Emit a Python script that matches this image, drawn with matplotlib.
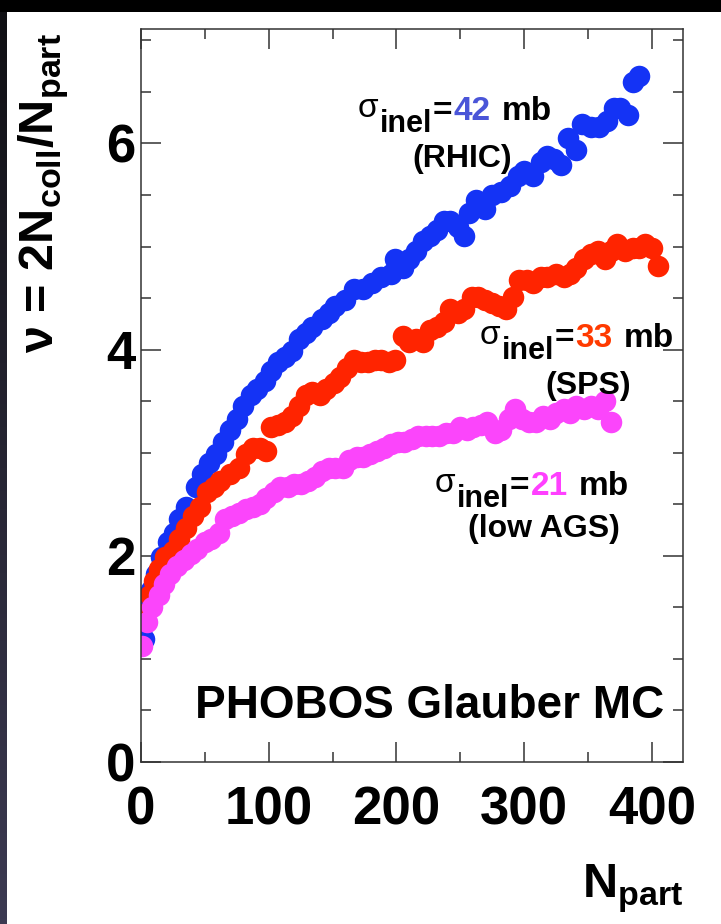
import numpy as np
import matplotlib
matplotlib.use("Agg")
import matplotlib.pyplot as plt
from matplotlib.patches import Rectangle

plt.rcParams['font.family'] = ['Liberation Sans', 'DejaVu Sans']

# N_part and nu for the three inelastic cross sections
npart_42 = [2, 5, 8, 12, 16, 21, 26, 30, 35, 43, 48, 53, 59, 64, 70, 75, 80, 86, 91, 97,
            102, 107, 113, 118, 124, 129, 134, 142, 147, 152, 160, 167, 174, 181, 188, 196,
            199, 205, 210, 215, 221, 226, 232, 237, 242, 248, 253, 257, 262, 269, 275, 282,
            289, 295, 300, 307, 313, 318, 323, 329, 334, 341, 345, 352, 359, 365, 370, 375,
            381, 385, 390]
nu_42 = [1.19, 1.50, 1.67, 1.82, 1.99, 2.13, 2.22, 2.36, 2.47, 2.67, 2.79, 2.90, 2.99, 3.10,
         3.22, 3.33, 3.45, 3.56, 3.62, 3.70, 3.79, 3.88, 3.93, 3.99, 4.10, 4.16, 4.22, 4.30,
         4.36, 4.42, 4.48, 4.59, 4.59, 4.65, 4.70, 4.73, 4.88, 4.79, 4.88, 4.96, 5.05, 5.10,
         5.16, 5.25, 5.25, 5.19, 5.10, 5.33, 5.45, 5.36, 5.50, 5.53, 5.59, 5.68, 5.73, 5.68,
         5.82, 5.88, 5.85, 5.79, 6.05, 5.94, 6.19, 6.16, 6.16, 6.22, 6.34, 6.34, 6.28, 6.60,
         6.65]

npart_33 = [2, 7, 10, 14, 19, 25, 30, 35, 41, 46, 52, 57, 62, 70, 77, 82, 88, 93, 98, 102,
            107, 113, 118, 124, 129, 134, 140, 145, 151, 156, 161, 167, 172, 178, 183, 188,
            194, 199, 205, 210, 215, 221, 226, 232, 237, 242, 248, 253, 259, 264, 269, 275,
            280, 286, 291, 296, 302, 307, 313, 318, 325, 331, 336, 341, 347, 352, 358, 363,
            368, 373, 379, 385, 390, 395, 400, 405]
nu_33 = [1.44, 1.62, 1.76, 1.87, 1.99, 2.05, 2.16, 2.27, 2.39, 2.47, 2.62, 2.67, 2.73, 2.79,
         2.85, 2.99, 3.05, 3.05, 3.02, 3.25, 3.27, 3.30, 3.36, 3.45, 3.56, 3.59, 3.56, 3.62,
         3.68, 3.73, 3.82, 3.90, 3.88, 3.88, 3.90, 3.90, 3.88, 3.90, 4.13, 4.07, 4.10, 4.07,
         4.19, 4.22, 4.27, 4.39, 4.36, 4.39, 4.51, 4.51, 4.48, 4.45, 4.42, 4.39, 4.51, 4.68,
         4.68, 4.65, 4.70, 4.70, 4.73, 4.70, 4.73, 4.79, 4.88, 4.93, 4.96, 4.88, 4.96, 5.02,
         4.96, 4.99, 4.99, 5.02, 4.99, 4.81]

npart_21 = [1, 5, 9, 14, 18, 23, 28, 34, 39, 44, 50, 55, 61, 66, 71, 77, 82, 88, 93, 98,
            104, 109, 115, 120, 125, 131, 136, 142, 147, 152, 158, 163, 169, 174, 179, 185,
            190, 196, 201, 206, 212, 217, 223, 228, 233, 239, 244, 250, 255, 260, 266, 271,
            277, 282, 288, 293, 298, 304, 309, 315, 320, 325, 331, 336, 341, 347, 352, 358,
            363, 368]
nu_21 = [1.13, 1.36, 1.50, 1.62, 1.73, 1.82, 1.90, 1.96, 2.02, 2.07, 2.13, 2.16, 2.22, 2.36,
         2.39, 2.42, 2.45, 2.47, 2.50, 2.56, 2.62, 2.67, 2.67, 2.70, 2.70, 2.73, 2.76, 2.82,
         2.85, 2.85, 2.85, 2.93, 2.96, 2.96, 2.99, 3.02, 3.05, 3.08, 3.10, 3.10, 3.13, 3.16,
         3.16, 3.16, 3.16, 3.19, 3.19, 3.25, 3.22, 3.25, 3.27, 3.30, 3.19, 3.22, 3.33, 3.42,
         3.33, 3.30, 3.30, 3.36, 3.33, 3.39, 3.42, 3.39, 3.45, 3.42, 3.45, 3.42, 3.50, 3.30]

xticks = [0, 100, 200, 300, 400]
yticks = [0, 2, 4, 6]

W, H = 721, 924
fig = plt.figure(figsize=(W / 100, H / 100), dpi=100, facecolor='black')

# white page with a dark strip on the left, black band on top
fig.patches.append(Rectangle((7 / W, 0), 1, 1 - 12 / H, transform=fig.transFigure,
                             facecolor='white', edgecolor='none', zorder=-10))
strip = fig.add_axes([0, 0, 7 / W, 1 - 12 / H], zorder=-5)
grad = np.linspace(1, 0, 200).reshape(-1, 1)
strip.imshow(grad, aspect='auto', cmap=matplotlib.colors.LinearSegmentedColormap.from_list(
    'g', ['#101014', '#3c3a52']), origin='lower')
strip.axis('off')

ax = fig.add_axes([141 / W, 1 - 762 / H, (683 - 141) / W, (762 - 29) / H])
ax.plot(npart_42, nu_42, 'o', color='#1433f5', ms=15.5, mew=0)
ax.plot(npart_33, nu_33, 'o', color='#ff2400', ms=15.5, mew=0)
ax.plot(npart_21, nu_21, 'o', color='#fb45fb', ms=15.5, mew=0)

ax.set_xlim(0, 424.4)
ax.set_ylim(0, 7.11)
ax.set_xticks(xticks)
ax.set_yticks(yticks)
ax.set_xticks(np.arange(0, 425, 50), minor=True)
ax.set_yticks(np.arange(0, 7.1, 0.5), minor=True)
ax.tick_params(which='both', direction='in', top=True, right=True, color='#333333', width=1.1)
ax.tick_params(which='major', length=14.5)
ax.tick_params(which='minor', length=7.5)
ax.tick_params(axis='x', which='major', labelsize=38, pad=17)
ax.tick_params(axis='y', which='major', labelsize=38, pad=4)
for lab in ax.get_xticklabels() + ax.get_yticklabels():
    lab.set_fontweight('bold')
for s in ax.spines.values():
    s.set_color('#333333')
    s.set_linewidth(1.1)

# axis titles
fig.text(683 / W, 1 - 898 / H, r'N$_{\mathregular{part}}$', fontsize=35, fontweight='bold',
         ha='right', va='baseline')
fig.text(54 / W, 1 - 33 / H, r'ν = 2N$_{\mathregular{coll}}$/N$_{\mathregular{part}}$',
         fontsize=35, fontweight='bold', rotation=90, rotation_mode='anchor',
         ha='right', va='baseline')

fig.text(195 / W, 1 - 718 / H, 'PHOBOS Glauber MC', fontsize=33, fontweight='bold',
         ha='left', va='baseline')

renderer = fig.canvas.get_renderer()


def sigma_label(x0, y0, value, color, second, x2, y2):
    size = 24
    parts = [('σ', dict(fontsize=size, fontweight='normal'), -3, 1),
             ('inel', dict(fontsize=size - 2, fontweight='bold'), 12, 1),
             ('=', dict(fontsize=size, fontweight='bold'), 0, 1),
             (value, dict(fontsize=size, fontweight='bold', color=color), 0, 11),
             ('mb', dict(fontsize=size, fontweight='bold'), 0, 0)]
    x = x0
    for s, kw, dy, gap in parts:
        t = fig.text(x / W, 1 - (y0 + dy) / H, s, ha='left', va='baseline', **kw)
        x += t.get_window_extent(renderer=renderer).width + gap
    fig.text(x2 / W, 1 - y2 / H, second, fontsize=size - 1, fontweight='bold',
             ha='center', va='baseline')


sigma_label(358, 120, '42', '#4a55d8', '(RHIC)', 462, 167)
sigma_label(480, 347, '33', '#ff3a00', '(SPS)', 588, 394)
sigma_label(435, 495, '21', '#ff40ff', '(low AGS)', 544, 537)

fig.savefig('out.png', dpi=100, facecolor=fig.get_facecolor())
